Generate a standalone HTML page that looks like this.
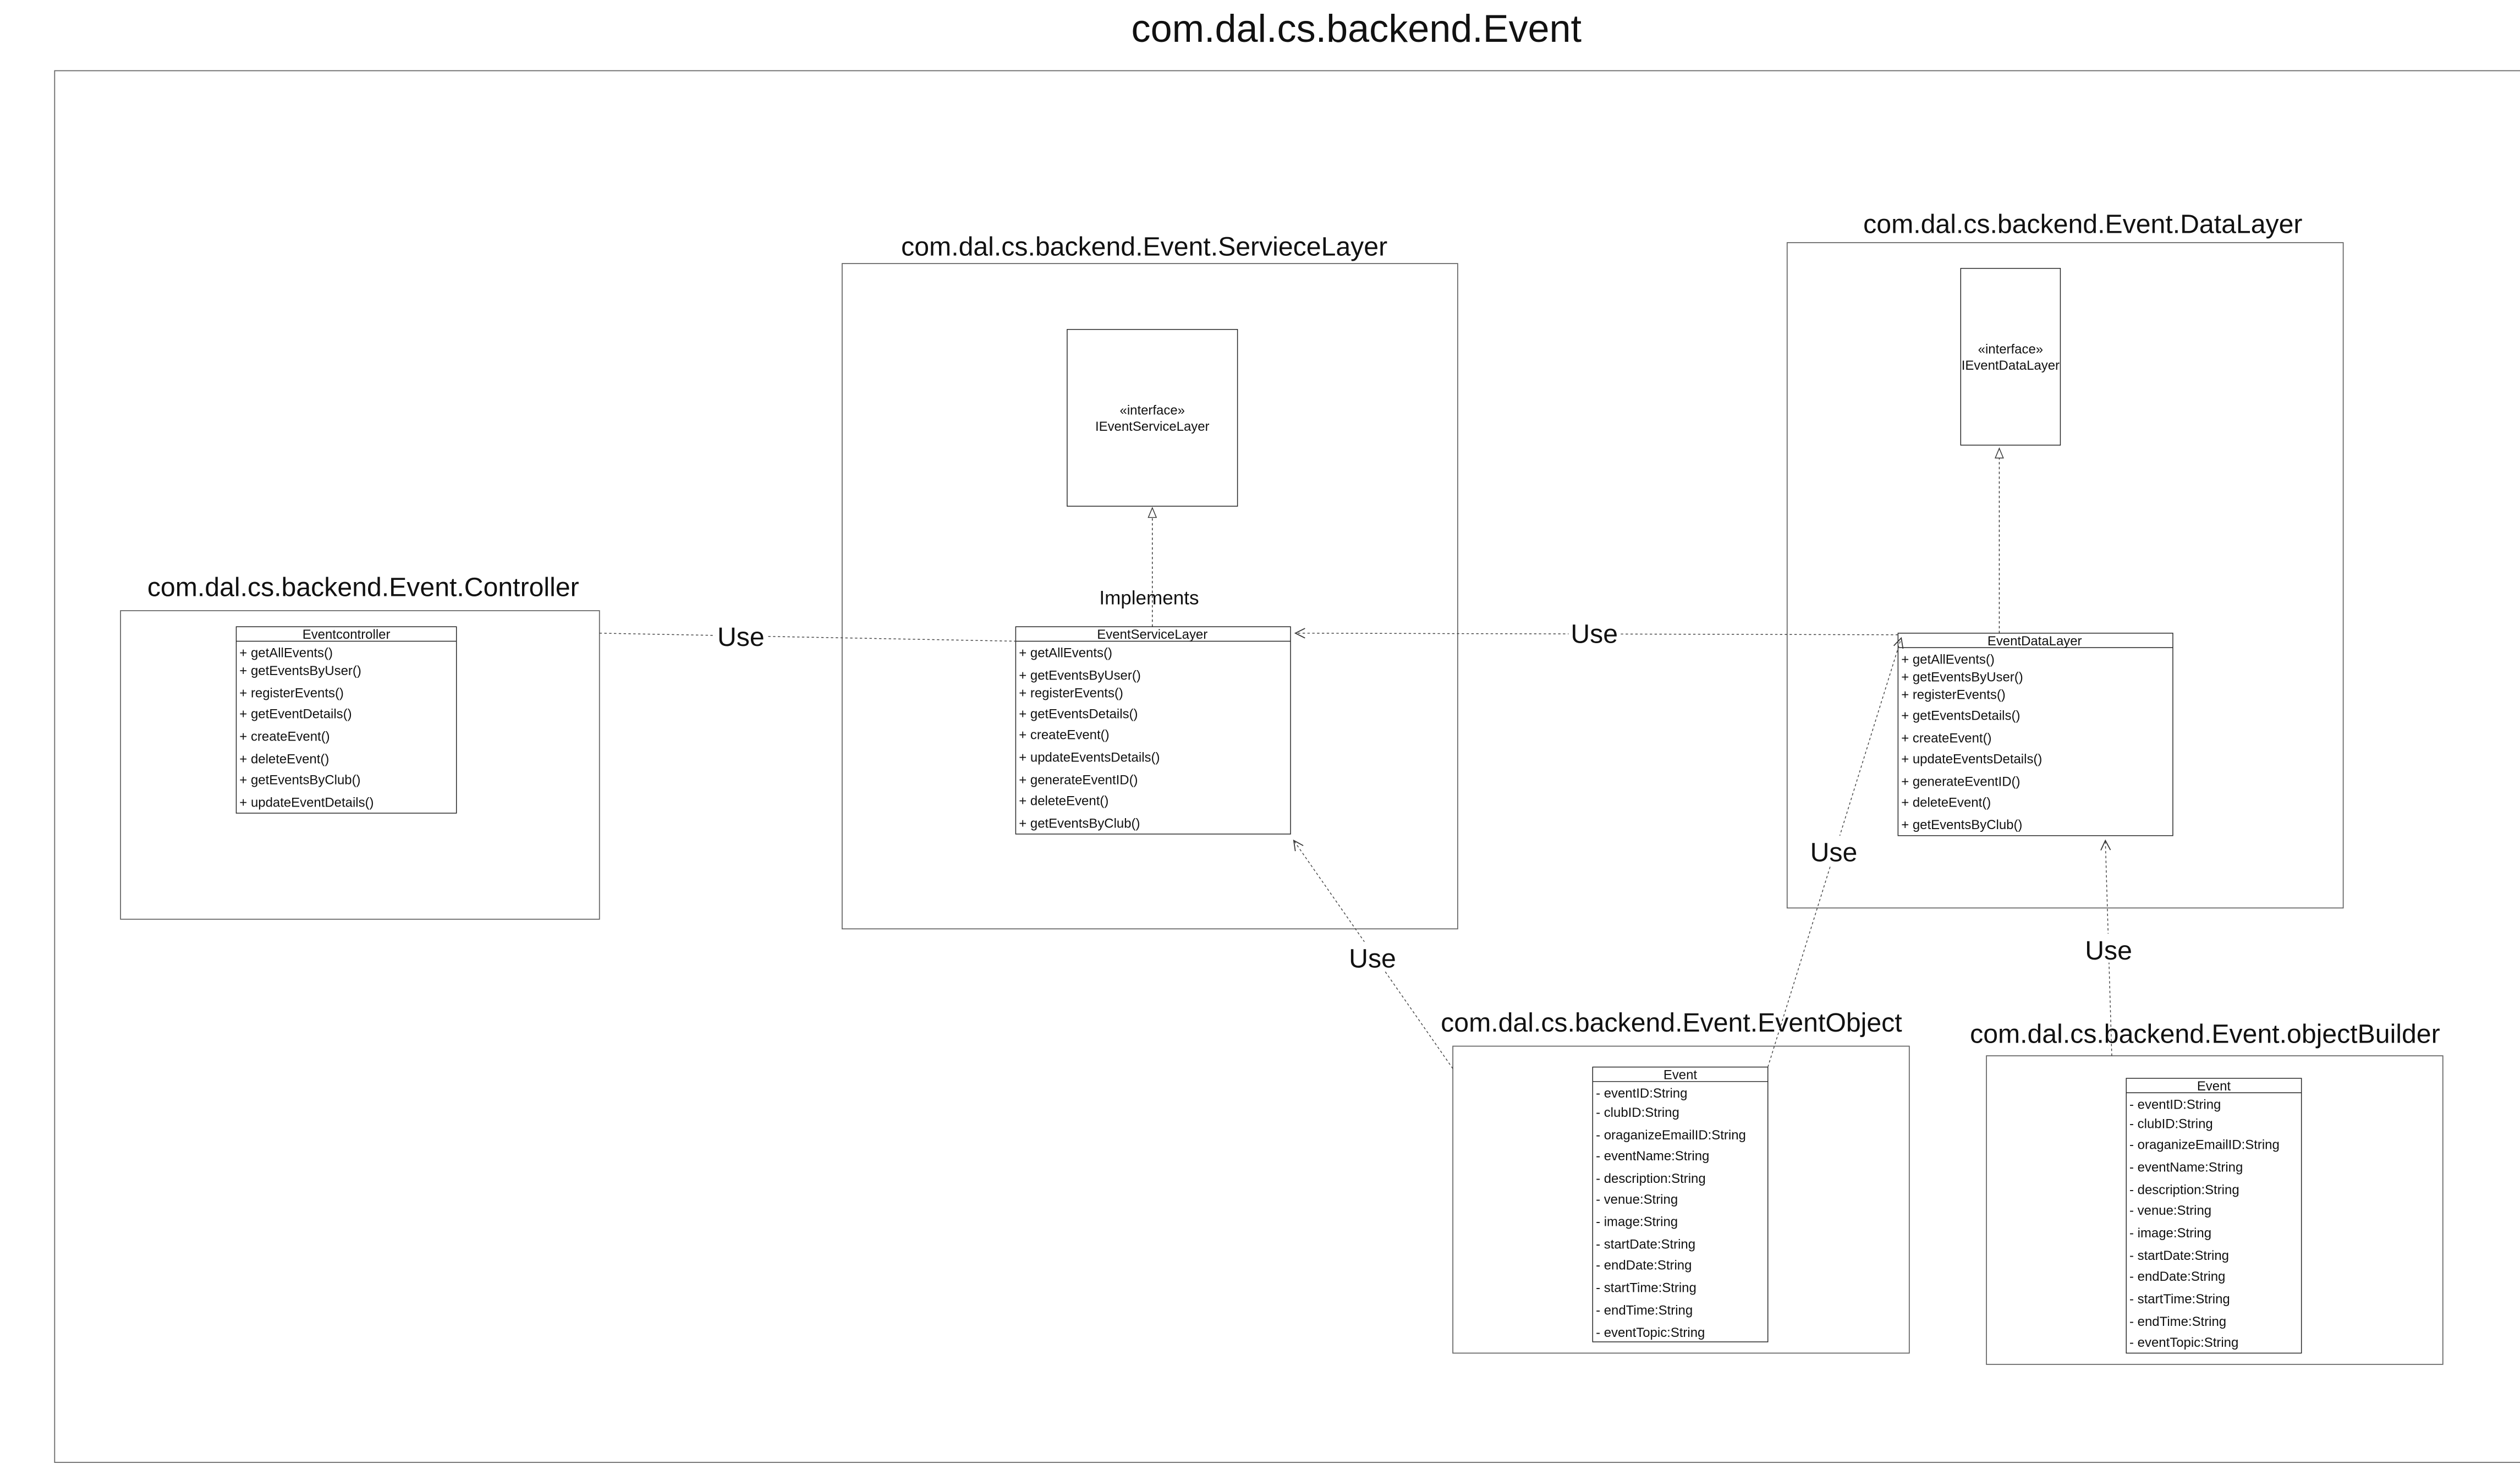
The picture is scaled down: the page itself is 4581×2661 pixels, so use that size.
<!DOCTYPE html>
<html><head><meta charset="utf-8"><style>
html,body{margin:0;padding:0;background:#fff;}
svg{display:block;}
text{font-family:"Liberation Sans",sans-serif;fill:#111;}
.c{font-size:8.2px;}
.p{font-size:16.5px;}
.u{font-size:16.5px;}
</style></head><body>
<svg width="4581" height="2661" viewBox="0 0 1568 911" preserveAspectRatio="none" xmlns="http://www.w3.org/2000/svg">
<defs>
<marker id="open" markerWidth="8" markerHeight="8" refX="7" refY="4" orient="auto" markerUnits="userSpaceOnUse"><path d="M1,1 L7,4 L1,7" fill="none" stroke="#333" stroke-width="0.6"/></marker>
<marker id="tri" markerWidth="8" markerHeight="8" refX="7" refY="4" orient="auto" markerUnits="userSpaceOnUse"><path d="M1,1.5 L7,4 L1,6.5 Z" fill="#fff" stroke="#333" stroke-width="0.5"/></marker>
</defs>
<rect width="1568" height="911" fill="#fff"/>
<text x="844" y="26" text-anchor="middle" style="font-size:24px">com.dal.cs.backend.Event</text>
<rect x="34" y="44" width="1545" height="866" fill="none" stroke="#666" stroke-width="0.6"/>

<!-- Controller -->
<text x="226" y="371" text-anchor="middle" class="p">com.dal.cs.backend.Event.Controller</text>
<rect x="75" y="380" width="298" height="192" fill="none" stroke="#666" stroke-width="0.6"/>
<rect x="147" y="390" width="137" height="116" fill="#fff" stroke="#222" stroke-width="0.5"/>
<line x1="147" y1="399" x2="284" y2="399" stroke="#222" stroke-width="0.5"/>
<g class="c">
<text x="215.5" y="397.5" text-anchor="middle" class="c">Eventcontroller</text>
<text x="149" y="409" class="c">+ getAllEvents()</text>
<text x="149" y="420" class="c">+ getEventsByUser()</text>
<text x="149" y="434" class="c">+ registerEvents()</text>
<text x="149" y="447" class="c">+ getEventDetails()</text>
<text x="149" y="461" class="c">+ createEvent()</text>
<text x="149" y="475" class="c">+ deleteEvent()</text>
<text x="149" y="488" class="c">+ getEventsByClub()</text>
<text x="149" y="502" class="c">+ updateEventDetails()</text>
</g>

<!-- Service layer -->
<text x="712" y="159" text-anchor="middle" class="p">com.dal.cs.backend.Event.ServieceLayer</text>
<rect x="524" y="164" width="383" height="414" fill="none" stroke="#666" stroke-width="0.6"/>
<rect x="664" y="205" width="106" height="110" fill="#fff" stroke="#222" stroke-width="0.5"/>
<text x="717" y="258" text-anchor="middle" class="c">«interface»</text>
<text x="717" y="268" text-anchor="middle" class="c">IEventServiceLayer</text>
<line x1="717" y1="390" x2="717" y2="316" stroke="#333" stroke-width="0.5" stroke-dasharray="1.5,1.5" marker-end="url(#tri)"/>
<text x="715" y="376" text-anchor="middle" style="font-size:12px">Implements</text>
<rect x="632" y="390" width="171" height="129" fill="#fff" stroke="#222" stroke-width="0.5"/>
<line x1="632" y1="399" x2="803" y2="399" stroke="#222" stroke-width="0.5"/>
<text x="717" y="397.5" text-anchor="middle" class="c">EventServiceLayer</text>
<text x="634" y="409" class="c">+ getAllEvents()</text>
<text x="634" y="423" class="c">+ getEventsByUser()</text>
<text x="634" y="434" class="c">+ registerEvents()</text>
<text x="634" y="447" class="c">+ getEventsDetails()</text>
<text x="634" y="460" class="c">+ createEvent()</text>
<text x="634" y="474" class="c">+ updateEventsDetails()</text>
<text x="634" y="488" class="c">+ generateEventID()</text>
<text x="634" y="501" class="c">+ deleteEvent()</text>
<text x="634" y="515" class="c">+ getEventsByClub()</text>

<!-- Data layer -->
<text x="1296" y="145" text-anchor="middle" class="p">com.dal.cs.backend.Event.DataLayer</text>
<rect x="1112" y="151" width="346" height="414" fill="none" stroke="#666" stroke-width="0.6"/>
<rect x="1220" y="167" width="62" height="110" fill="#fff" stroke="#222" stroke-width="0.5"/>
<text x="1251" y="220" text-anchor="middle" class="c">«interface»</text>
<text x="1251" y="230" text-anchor="middle" class="c">IEventDataLayer</text>
<line x1="1244" y1="394" x2="1244" y2="279" stroke="#333" stroke-width="0.5" stroke-dasharray="1.5,1.5" marker-end="url(#tri)"/>
<rect x="1181" y="394" width="171" height="126" fill="#fff" stroke="#222" stroke-width="0.5"/>
<line x1="1181" y1="403" x2="1352" y2="403" stroke="#222" stroke-width="0.5"/>
<text x="1266" y="401.5" text-anchor="middle" class="c">EventDataLayer</text>
<text x="1183" y="413" class="c">+ getAllEvents()</text>
<text x="1183" y="424" class="c">+ getEventsByUser()</text>
<text x="1183" y="435" class="c">+ registerEvents()</text>
<text x="1183" y="448" class="c">+ getEventsDetails()</text>
<text x="1183" y="462" class="c">+ createEvent()</text>
<text x="1183" y="475" class="c">+ updateEventsDetails()</text>
<text x="1183" y="489" class="c">+ generateEventID()</text>
<text x="1183" y="502" class="c">+ deleteEvent()</text>
<text x="1183" y="516" class="c">+ getEventsByClub()</text>

<!-- EventObject -->
<text x="1040" y="642" text-anchor="middle" class="p">com.dal.cs.backend.Event.EventObject</text>
<rect x="904" y="651" width="284" height="191" fill="none" stroke="#666" stroke-width="0.6"/>
<rect x="991" y="664" width="109" height="171" fill="#fff" stroke="#222" stroke-width="0.5"/>
<line x1="991" y1="673" x2="1100" y2="673" stroke="#222" stroke-width="0.5"/>
<text x="1045.5" y="671.5" text-anchor="middle" class="c">Event</text>
<text x="993" y="683" class="c">- eventID:String</text>
<text x="993" y="695" class="c">- clubID:String</text>
<text x="993" y="709" class="c">- oraganizeEmailID:String</text>
<text x="993" y="722" class="c">- eventName:String</text>
<text x="993" y="736" class="c">- description:String</text>
<text x="993" y="749" class="c">- venue:String</text>
<text x="993" y="763" class="c">- image:String</text>
<text x="993" y="777" class="c">- startDate:String</text>
<text x="993" y="790" class="c">- endDate:String</text>
<text x="993" y="804" class="c">- startTime:String</text>
<text x="993" y="818" class="c">- endTime:String</text>
<text x="993" y="832" class="c">- eventTopic:String</text>

<!-- objectBuilder -->
<text x="1372" y="649" text-anchor="middle" class="p">com.dal.cs.backend.Event.objectBuilder</text>
<rect x="1236" y="657" width="284" height="192" fill="none" stroke="#666" stroke-width="0.6"/>
<rect x="1323" y="671" width="109" height="171" fill="#fff" stroke="#222" stroke-width="0.5"/>
<line x1="1323" y1="680" x2="1432" y2="680" stroke="#222" stroke-width="0.5"/>
<text x="1377.5" y="678.5" text-anchor="middle" class="c">Event</text>
<text x="1325" y="690" class="c">- eventID:String</text>
<text x="1325" y="702" class="c">- clubID:String</text>
<text x="1325" y="715" class="c">- oraganizeEmailID:String</text>
<text x="1325" y="729" class="c">- eventName:String</text>
<text x="1325" y="743" class="c">- description:String</text>
<text x="1325" y="756" class="c">- venue:String</text>
<text x="1325" y="770" class="c">- image:String</text>
<text x="1325" y="784" class="c">- startDate:String</text>
<text x="1325" y="797" class="c">- endDate:String</text>
<text x="1325" y="811" class="c">- startTime:String</text>
<text x="1325" y="825" class="c">- endTime:String</text>
<text x="1325" y="838" class="c">- eventTopic:String</text>

<!-- connectors -->
<g stroke="#444" stroke-width="0.5" stroke-dasharray="1.5,1.5" fill="none">
<line x1="373" y1="394" x2="632" y2="399"/>
<line x1="1181" y1="395" x2="806" y2="394" marker-end="url(#open)"/>
<line x1="904" y1="665" x2="805" y2="523" marker-end="url(#open)"/>
<line x1="1100" y1="664" x2="1183" y2="397" marker-end="url(#open)"/>
<line x1="1314" y1="657" x2="1310" y2="523" marker-end="url(#open)"/>
</g>
<g class="u">
<rect x="445" y="386" width="32" height="18" fill="#fff"/>
<text x="461" y="402" text-anchor="middle" class="u">Use</text>
<rect x="976" y="384" width="32" height="18" fill="#fff"/>
<text x="992" y="400" text-anchor="middle" class="u">Use</text>
<rect x="838" y="586" width="32" height="18" fill="#fff"/>
<text x="854" y="602" text-anchor="middle" class="u">Use</text>
<rect x="1125" y="520" width="32" height="18" fill="#fff"/>
<text x="1141" y="536" text-anchor="middle" class="u">Use</text>
<rect x="1296" y="581" width="32" height="18" fill="#fff"/>
<text x="1312" y="597" text-anchor="middle" class="u">Use</text>
</g>
</svg>
</body></html>
